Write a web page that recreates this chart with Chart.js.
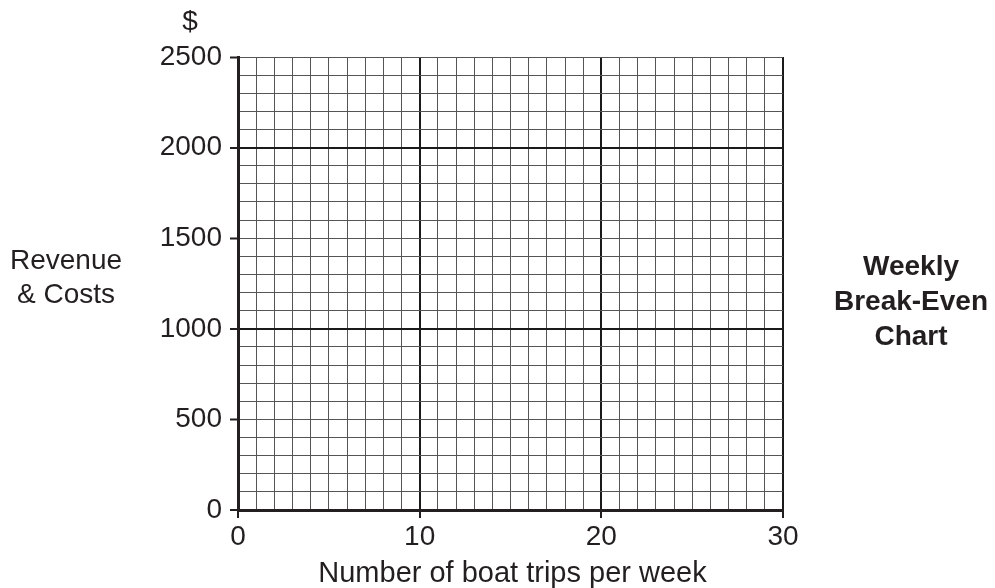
<!DOCTYPE html>
<html lang="en">
<head>
<meta charset="UTF-8">
<title>Weekly Break-Even Chart</title>
<style>
  html, body { margin: 0; padding: 0; background: #fff; }
  #chart { display: block; }
</style>
</head>
<body>
<canvas id="chart" width="995" height="588"></canvas>

<script src="https://cdn.jsdelivr.net/npm/chart.js"></script>
<script>
    // axes of the blank break-even grid
    var xMin = 0, xMax = 30, xStep = 1;
    var yMin = 0, yMax = 2500, yStep = 100;
    var xLabels = [0, 10, 20, 30];
    var yLabels = [0, 500, 1000, 1500, 2000, 2500];
    var xMajor = [0, 10, 20, 30];
    var yMajor = [0, 1000, 2000];

    // nothing is plotted yet, the grid is left for the student
    var revenue = [];
    var totalCosts = [];

    var ink = '#231f20';
    var font = "'Liberation Sans', Arial, Helvetica, sans-serif";

    // titles placed around the plot area
    var sideTexts = {
        id: 'sideTexts',
        afterDraw: function (chart) {
            var c = chart.ctx;
            var a = chart.chartArea;
            c.save();
            c.fillStyle = ink;
            c.textAlign = 'center';
            c.textBaseline = 'alphabetic';

            c.font = '28px ' + font;
            c.fillText('$', a.left - 48, a.top - 27);
            c.fillText('Revenue', a.left - 172, a.top + 212);
            c.fillText('& Costs', a.left - 172, a.top + 246);

            c.font = '29px ' + font;
            c.fillText('Number of boat trips per week', (a.left + a.right) / 2 + 2, a.bottom + 72);

            c.font = 'bold 28px ' + font;
            c.fillText('Weekly', a.right + 128, a.top + 218);
            c.fillText('Break-Even', a.right + 128, a.top + 253);
            c.fillText('Chart', a.right + 128, a.top + 288);
            c.restore();
        }
    };

    function gridColor(ctx, major) {
        return major.indexOf(ctx.tick.value) >= 0 ? '#1a1a1a' : '#555555';
    }
    function gridWidth(ctx, major) {
        return major.indexOf(ctx.tick.value) >= 0 ? 2 : 1;
    }

    var config = {
        type: 'scatter',
        data: {
            datasets: [
                { label: 'Revenue', data: revenue, borderColor: ink, showLine: true },
                { label: 'Total costs', data: totalCosts, borderColor: ink, showLine: true }
            ]
        },
        options: {
            responsive: false,
            animation: false,
            devicePixelRatio: 1,
            layout: { padding: { top: 57, right: 212, bottom: 0, left: 0 } },
            plugins: { legend: { display: false }, tooltip: { enabled: false } },
            scales: {
                x: {
                    type: 'linear',
                    min: xMin,
                    max: xMax,
                    afterFit: function (scale) { scale.height = 78; },
                    border: { display: true, color: ink, width: 3 },
                    grid: {
                        color: function (ctx) { return gridColor(ctx, xMajor); },
                        lineWidth: function (ctx) { return gridWidth(ctx, xMajor); },
                        tickLength: 8,
                        tickWidth: 2,
                        tickColor: function (ctx) {
                            return xLabels.indexOf(ctx.tick.value) >= 0 ? ink : 'rgba(0,0,0,0)';
                        }
                    },
                    ticks: {
                        stepSize: xStep,
                        maxTicksLimit: 100,
                        autoSkip: false,
                        maxRotation: 0,
                        padding: 2,
                        color: ink,
                        font: { family: font, size: 28 },
                        callback: function (v) { return xLabels.indexOf(v) >= 0 ? String(v) : ''; }
                    }
                },
                y: {
                    type: 'linear',
                    min: yMin,
                    max: yMax,
                    afterFit: function (scale) { scale.width = 238; },
                    border: { display: true, color: ink, width: 3 },
                    grid: {
                        color: function (ctx) { return gridColor(ctx, yMajor); },
                        lineWidth: function (ctx) { return gridWidth(ctx, yMajor); },
                        tickLength: 8,
                        tickWidth: 2,
                        tickColor: function (ctx) {
                            return yLabels.indexOf(ctx.tick.value) >= 0 ? ink : 'rgba(0,0,0,0)';
                        }
                    },
                    ticks: {
                        stepSize: yStep,
                        maxTicksLimit: 100,
                        autoSkip: false,
                        padding: 8,
                        color: ink,
                        font: { family: font, size: 28 },
                        callback: function (v) { return yLabels.indexOf(v) >= 0 ? String(v) : ''; }
                    }
                }
            }
        },
        plugins: [sideTexts]
    };

    var myChart = new Chart(document.getElementById('chart'), config);
</script>
</body>
</html>
